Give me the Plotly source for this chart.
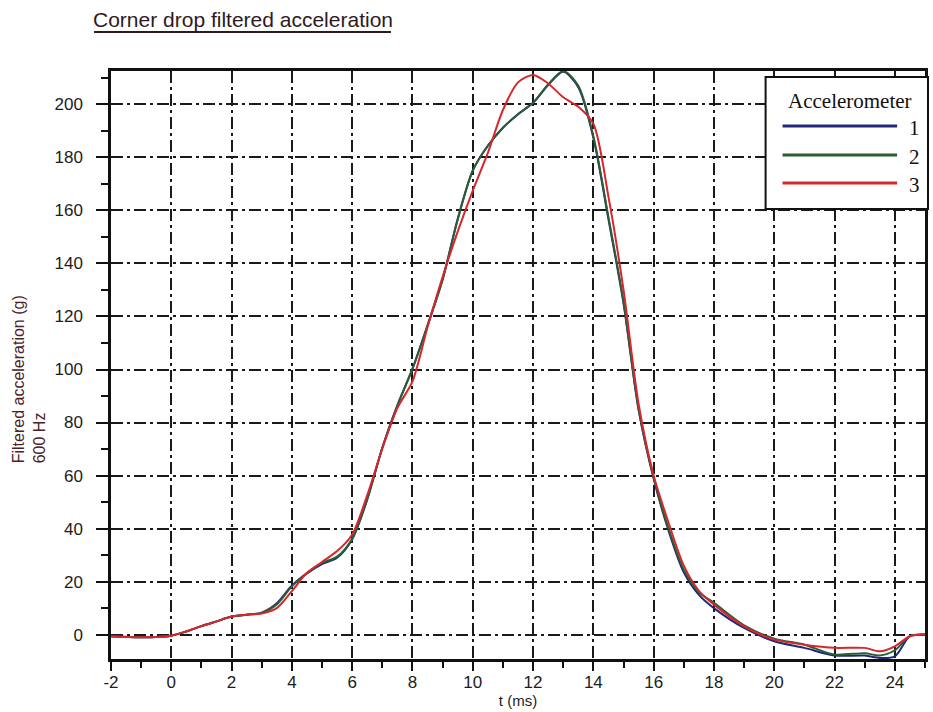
import plotly.graph_objects as go

# ---- data ----
t_ms = [-2, -1, 0, 0.5, 1, 1.5, 2, 2.5, 3, 3.5, 4, 4.5, 5, 5.5, 6, 6.5, 7, 7.5, 8, 8.5,
        9, 9.5, 10, 10.5, 11, 11.5, 12, 12.5, 13, 13.5, 14, 14.5, 15, 15.5, 16, 16.5,
        17, 17.5, 18, 19, 20, 21, 22, 23, 23.5, 24, 24.5, 25]

acc1 = [-0.6, -1.0, -0.4, 1.2, 3.2, 5.0, 6.8, 7.5, 8.3, 11.8, 18.5, 23.1, 26.6, 29.0, 36.0, 51.0,
        70.5, 86.5, 100.3, 116.7, 134.0, 156.8, 175.1, 184.4, 191.2, 196.3, 200.6, 207.3, 212.3,
        206.5, 187.4, 156.7, 125.0, 84.8, 58.8, 39.0, 23.5, 15.0, 10.0, 2.5, -2.5, -5.0, -7.9,
        -7.9, -8.8, -8.2, -0.6, 0.0]

acc2 = [-0.6, -1.0, -0.4, 1.2, 3.2, 5.0, 6.8, 7.5, 8.2, 11.4, 18.2, 23.2, 27.0, 29.4, 36.2, 51.2,
        70.5, 86.5, 100.2, 116.6, 134.0, 156.6, 175.0, 184.4, 191.2, 196.3, 200.6, 207.5, 212.6,
        207.0, 188.0, 157.5, 125.5, 85.2, 59.2, 39.8, 24.5, 16.0, 12.0, 3.5, -1.5, -3.8, -7.5,
        -7.0, -7.9, -5.9, -0.6, 0.0]

acc3 = [-0.6, -1.0, -0.4, 1.2, 3.2, 5.0, 6.8, 7.5, 8.0, 10.0, 16.4, 23.3, 27.4, 31.5, 37.8, 52.6,
        70.2, 85.5, 95.5, 116.0, 135.0, 152.0, 167.5, 181.7, 197.9, 208.3, 211.1, 207.9, 202.7,
        199.1, 192.7, 165.2, 130.0, 87.0, 60.0, 42.0, 26.0, 16.5, 11.3, 3.1, -1.9, -3.8, -5.0,
        -5.0, -6.3, -4.4, -0.6, 0.0]

series_names = ["1", "2", "3"]
series_colors = ["#1e2a78", "#2a5e36", "#d8262a"]

x_ticks = [-2, 0, 2, 4, 6, 8, 10, 12, 14, 16, 18, 20, 22, 24]
y_ticks = [0, 20, 40, 60, 80, 100, 120, 140, 160, 180, 200]

# ---- layout geometry (pixels) ----
W, H = 933, 712
L, R, T, B = 111, 5, 71, 53
PW, PH = W - L - R, H - T - B


def px(xp):
    return (xp - L) / PW


def py(yp):
    return (H - B - yp) / PH


fig = go.Figure()
for name, ys, col in zip(series_names, [acc1, acc2, acc3], series_colors):
    fig.add_trace(go.Scatter(x=t_ms, y=ys, mode="lines", name=name,
                             line=dict(color=col, width=2, shape="spline", smoothing=0.8),
                             showlegend=False))

grid_dash = "12px,4px,3px,4px"
SANS = "Arial, Liberation Sans, sans-serif"
SERIF = "Liberation Serif, Times New Roman, serif"
tickfont = dict(family=SANS, size=17, color="#1c1c1c")

fig.update_xaxes(range=[-2, 25], tickvals=x_ticks, ticktext=[str(v) for v in x_ticks],
                 showgrid=True, gridcolor="#1a1a1a", gridwidth=2, griddash=grid_dash,
                 zeroline=False, showline=True, linecolor="#111", linewidth=2.5, mirror=True,
                 ticks="outside", ticklen=9, tickwidth=2, tickcolor="#111",
                 minor=dict(dtick=1, tick0=0, ticks="outside", ticklen=6, tickwidth=2,
                            tickcolor="#111", showgrid=False),
                 tickfont=tickfont, ticklabelstandoff=-3,
                 title=dict(text="t (ms)", font=dict(family=SANS, size=15, color="#1c1c1c"),
                            standoff=4))
fig.update_yaxes(range=[-9.2, 212.6], tickvals=y_ticks, ticktext=[str(v) for v in y_ticks],
                 showgrid=True, gridcolor="#1a1a1a", gridwidth=2, griddash=grid_dash,
                 zeroline=False, showline=True, linecolor="#111", linewidth=2.5, mirror=True,
                 ticks="outside", ticklen=12, tickwidth=2, tickcolor="#111",
                 minor=dict(dtick=10, tick0=0, ticks="outside", ticklen=7, tickwidth=2,
                            tickcolor="#111", showgrid=False),
                 tickfont=tickfont, ticklabelstandoff=10)

shapes = []
annotations = []

# title + underline
annotations.append(dict(text="Corner drop filtered acceleration", xref="paper", yref="paper",
                        x=px(243), y=py(20), xanchor="center", yanchor="middle", showarrow=False,
                        font=dict(family=SANS, size=21, color="#2e1a1e")))
shapes.append(dict(type="line", xref="paper", yref="paper", x0=px(94), x1=px(392),
                   y0=py(32), y1=py(32), line=dict(color="#2e1a1e", width=2)))

# y-axis label
annotations.append(dict(text="Filtered acceleration (g)<br>600 Hz", xref="paper", yref="paper",
                        x=px(29), y=py(465), xanchor="center", yanchor="bottom", showarrow=False,
                        textangle=-90, align="left",
                        font=dict(family=SANS, size=16, color="#4a2226")))

# legend box
shapes.append(dict(type="rect", xref="paper", yref="paper", x0=px(768), x1=px(931),
                   y0=py(209), y1=py(77), fillcolor="white", line=dict(color="#111", width=2),
                   layer="above"))
annotations.append(dict(text="Accelerometer", xref="paper", yref="paper", x=px(853), y=py(101),
                        xanchor="center", yanchor="middle", showarrow=False,
                        font=dict(family=SERIF, size=21, color="#111")))
for name, col, ly in zip(series_names, series_colors, [126, 155, 183]):
    shapes.append(dict(type="line", xref="paper", yref="paper", x0=px(785), x1=px(900),
                       y0=py(ly), y1=py(ly), line=dict(color=col, width=3), layer="above"))
    annotations.append(dict(text=name, xref="paper", yref="paper", x=px(917), y=py(ly + 2),
                            xanchor="center", yanchor="middle", showarrow=False,
                            font=dict(family=SERIF, size=21, color="#111")))

fig.update_layout(width=W, height=H, margin=dict(l=L, r=R, t=T, b=B),
                  paper_bgcolor="white", plot_bgcolor="white",
                  shapes=shapes, annotations=annotations, showlegend=False)

fig.write_html("out.html", config={"displayModeBar": False},
               post_script="document.body.style.margin='0';document.body.style.overflow='hidden';")
